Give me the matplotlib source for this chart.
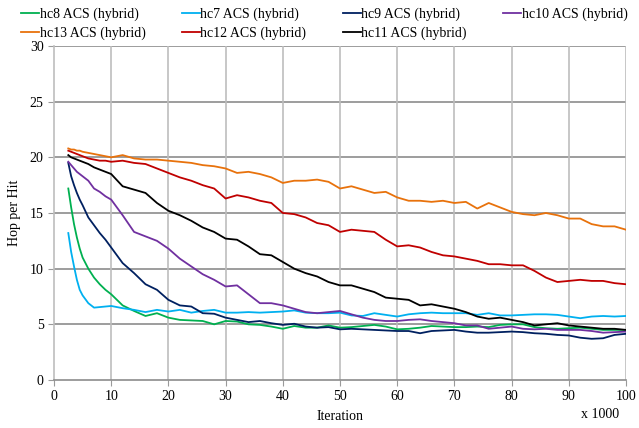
import matplotlib
matplotlib.use("Agg")
import matplotlib.pyplot as plt

plt.rcParams['font.family'] = ['Liberation Serif', 'DejaVu Serif']

iteration = [2.5, 3, 3.5, 4, 4.5, 5, 6, 7, 8, 9, 10, 12, 14, 16, 18, 20, 22, 24, 26, 28,
             30, 32, 34, 36, 38, 40, 42, 44, 46, 48, 50, 52, 54, 56, 58, 60, 62, 64, 66, 68,
             70, 72, 74, 76, 78, 80, 82, 84, 86, 88, 90, 92, 94, 96, 98, 100]

hc8 = [17.2, 15.5, 14.0, 12.8, 11.8, 11.0, 10.0, 9.2, 8.6, 8.1, 7.7, 6.7, 6.2, 5.75, 6.0, 5.6, 5.4, 5.35, 5.3, 5.0,
       5.3, 5.25, 5.0, 4.95, 4.8, 4.6, 4.85, 4.7, 4.7, 4.9, 4.7, 4.75, 4.85, 4.95, 4.8, 4.55, 4.6, 4.7, 4.85, 4.8,
       4.75, 4.75, 4.8, 4.75, 4.95, 5.0, 5.0, 4.75, 4.65, 4.6, 4.65, 4.7, 4.6, 4.5, 4.5, 4.5]
hc7 = [13.2, 11.5, 10.2, 9.0, 8.1, 7.6, 6.9, 6.5, 6.55, 6.6, 6.65, 6.45, 6.3, 6.1, 6.3, 6.15, 6.3, 6.05, 6.2, 6.3,
       6.05, 6.05, 6.1, 6.05, 6.1, 6.15, 6.25, 6.05, 6.0, 6.0, 6.05, 5.8, 5.75, 6.0, 5.85, 5.7, 5.9, 6.0, 6.05, 6.0,
       6.0, 6.0, 5.85, 6.0, 5.8, 5.8, 5.85, 5.9, 5.9, 5.85, 5.7, 5.55, 5.7, 5.75, 5.7, 5.75]
hc9 = [19.5, 18.3, 17.5, 16.8, 16.2, 15.7, 14.6, 13.9, 13.2, 12.6, 11.9, 10.5, 9.6, 8.6, 8.1, 7.2, 6.7, 6.6, 6.0, 5.95,
       5.6, 5.4, 5.2, 5.3, 5.1, 4.95, 5.05, 4.8, 4.7, 4.75, 4.55, 4.6, 4.55, 4.5, 4.45, 4.4, 4.4, 4.2, 4.4, 4.45,
       4.5, 4.35, 4.25, 4.25, 4.3, 4.35, 4.3, 4.2, 4.15, 4.05, 4.0, 3.8, 3.7, 3.75, 4.05, 4.15]
hc10 = [19.6, 19.3, 19.0, 18.7, 18.5, 18.3, 17.9, 17.2, 16.9, 16.5, 16.2, 14.8, 13.3, 12.9, 12.5, 11.8, 10.9, 10.2, 9.5, 9.0,
        8.4, 8.5, 7.7, 6.9, 6.9, 6.7, 6.4, 6.1, 6.0, 6.1, 6.2, 5.9, 5.6, 5.4, 5.3, 5.3, 5.4, 5.45, 5.3, 5.2,
        5.1, 4.9, 4.9, 4.6, 4.7, 4.8, 4.6, 4.55, 4.6, 4.5, 4.5, 4.5, 4.4, 4.25, 4.3, 4.35]
hc13 = [20.8, 20.7, 20.7, 20.6, 20.6, 20.5, 20.4, 20.3, 20.2, 20.1, 20.0, 20.2, 19.9, 19.8, 19.8, 19.7, 19.6, 19.5, 19.3, 19.2,
        19.0, 18.6, 18.7, 18.5, 18.2, 17.7, 17.9, 17.9, 18.0, 17.8, 17.2, 17.4, 17.1, 16.8, 16.9, 16.4, 16.1, 16.1, 16.0, 16.1,
        15.9, 16.0, 15.4, 15.9, 15.5, 15.1, 14.9, 14.8, 15.0, 14.8, 14.5, 14.5, 14.0, 13.8, 13.8, 13.5]
hc12 = [20.6, 20.5, 20.4, 20.3, 20.2, 20.1, 19.9, 19.8, 19.7, 19.7, 19.6, 19.7, 19.5, 19.4, 19.0, 18.6, 18.2, 17.9, 17.5, 17.2,
        16.3, 16.6, 16.4, 16.1, 15.9, 15.0, 14.9, 14.6, 14.1, 13.9, 13.3, 13.5, 13.4, 13.3, 12.6, 12.0, 12.1, 11.9, 11.5, 11.2,
        11.1, 10.9, 10.7, 10.4, 10.4, 10.3, 10.3, 9.8, 9.2, 8.8, 8.9, 9.0, 8.9, 8.9, 8.7, 8.6]
hc11 = [20.2, 20.0, 19.9, 19.8, 19.7, 19.6, 19.4, 19.1, 18.9, 18.7, 18.5, 17.4, 17.1, 16.8, 15.9, 15.2, 14.8, 14.3, 13.7, 13.3,
        12.7, 12.6, 12.0, 11.3, 11.2, 10.6, 10.0, 9.6, 9.3, 8.8, 8.5, 8.5, 8.2, 7.9, 7.4, 7.3, 7.2, 6.7, 6.8, 6.6,
        6.4, 6.1, 5.7, 5.5, 5.6, 5.4, 5.2, 4.9, 5.0, 5.1, 4.9, 4.8, 4.7, 4.6, 4.6, 4.5]

series = [
    ("hc8 ACS (hybrid)", hc8, "#00B050"),
    ("hc7 ACS (hybrid)", hc7, "#00B0F0"),
    ("hc9 ACS (hybrid)", hc9, "#002060"),
    ("hc10 ACS (hybrid)", hc10, "#7030A0"),
    ("hc13 ACS (hybrid)", hc13, "#E8720C"),
    ("hc12 ACS (hybrid)", hc12, "#C00000"),
    ("hc11 ACS (hybrid)", hc11, "#000000"),
]

x_ticks = [0, 10, 20, 30, 40, 50, 60, 70, 80, 90, 100]
y_ticks = [0, 5, 10, 15, 20, 25, 30]

fig = plt.figure(figsize=(6.39, 4.28), dpi=100)
ax = fig.add_axes([54/639, 1-380/428, (626-54)/639, (380-46)/428])

handles = {}
for label, vals, color in series:
    h, = ax.plot(iteration, vals, color=color, lw=1.3, label=label)
    handles[label] = h

ax.set_xlim(0, 100)
ax.set_ylim(0, 30)
ax.set_xticks(x_ticks)
ax.set_yticks(y_ticks)
for y in y_ticks[1:]:
    ax.axhline(y, color="#8C8C8C", lw=1.2, zorder=0)
for x in x_ticks[1:]:
    ax.axvline(x, color="#BDBDBD", lw=1.2, zorder=0)

for s in ["top", "right"]:
    ax.spines[s].set_visible(False)
ax.spines["left"].set_color("#BDBDBD")
ax.spines["left"].set_linewidth(1.2)
ax.spines["bottom"].set_color("#8C8C8C")
ax.spines["bottom"].set_linewidth(1.2)
ax.tick_params(axis="both", labelsize=10, length=4, color="#9A9A9A", direction="out")

ax.set_ylabel("Hop per Hit", fontsize=10, labelpad=6)
ax.set_xlabel("Iteration", fontsize=10, labelpad=5)
fig.text(600/639, 1-415/428, "x 1000", ha="center", va="center", fontsize=10)

order = ["hc8 ACS (hybrid)", "hc13 ACS (hybrid)", "hc7 ACS (hybrid)", "hc12 ACS (hybrid)",
         "hc9 ACS (hybrid)", "hc11 ACS (hybrid)", "hc10 ACS (hybrid)"]
fig.legend([handles[k] for k in order], order, ncol=4, loc="upper left",
           bbox_to_anchor=(21/639, 1 - 7.5/428), frameon=False, fontsize=10,
           handlelength=1.3, handletextpad=0.05, columnspacing=2.6,
           labelspacing=0.38, borderaxespad=0, borderpad=0)

fig.savefig("out.png", dpi=100)
